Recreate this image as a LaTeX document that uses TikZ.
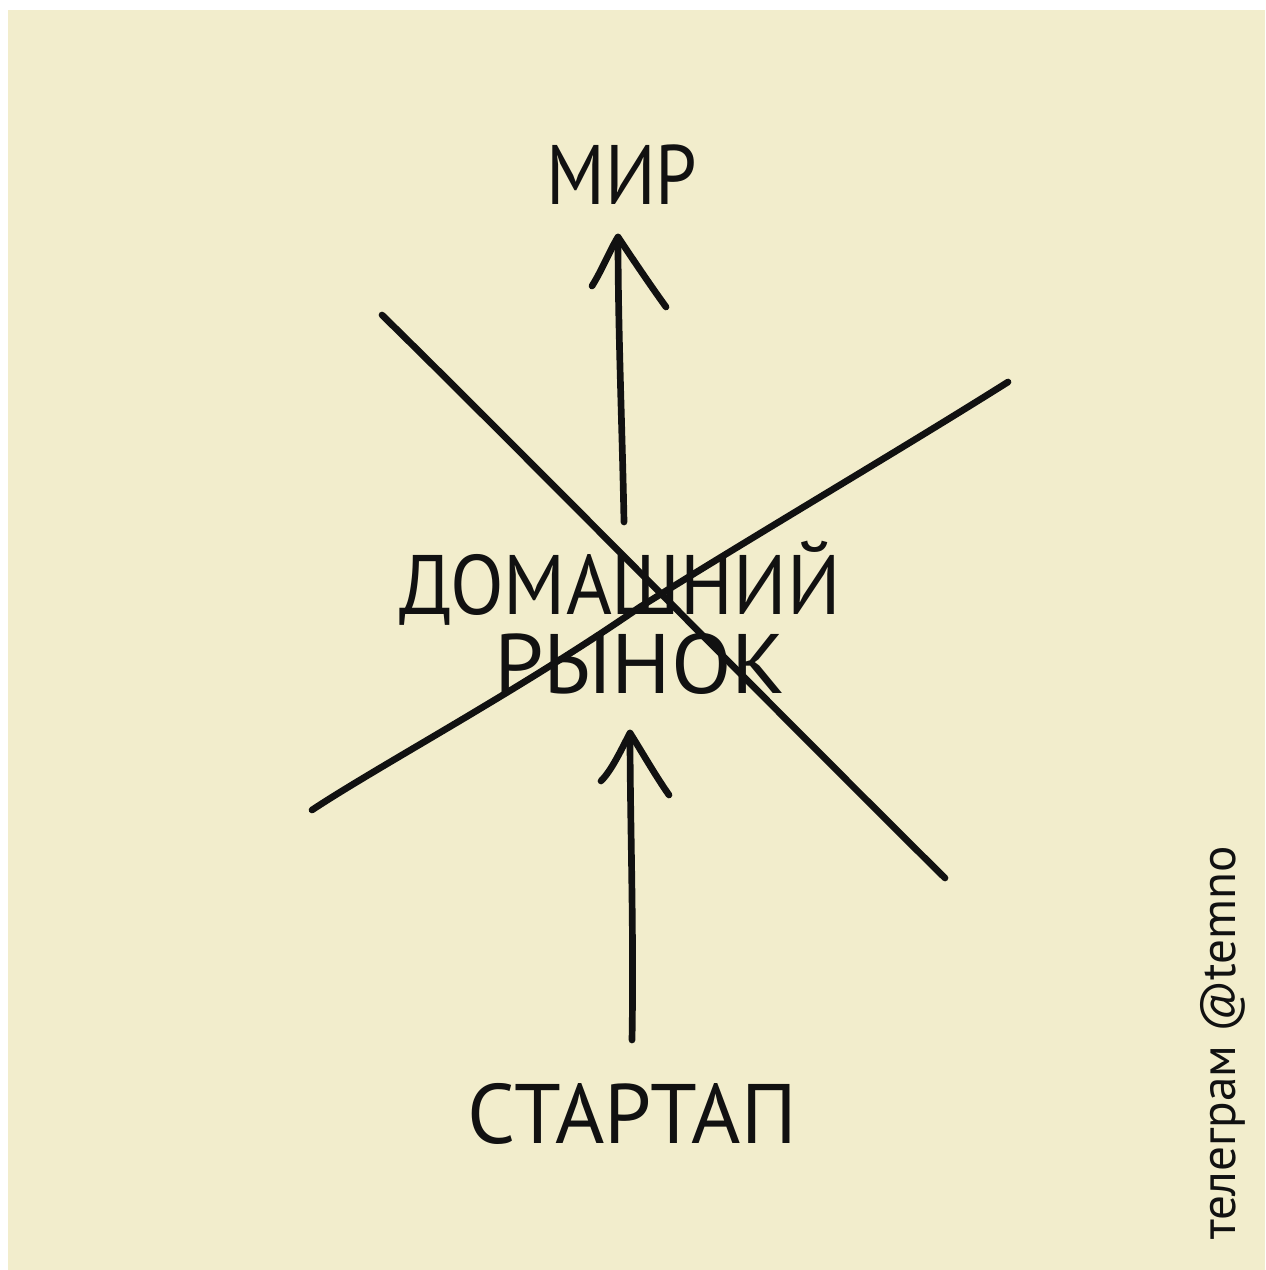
\documentclass[tikz,border=0pt]{standalone}
\usepackage{fontspec}
\setmainfont{PT Sans}
\definecolor{paper}{HTML}{F2EDCC}
\definecolor{ink}{HTML}{111111}
\tikzset{
  ink line/.style={draw=ink, line width=1.9pt, line cap=round, line join=round},
  label text/.style={text=ink, inner sep=0pt, font=\fontsize{24}{28}\selectfont},
  sig text/.style={text=ink, inner sep=0pt, font=\fontsize{14}{16}\selectfont, rotate=90, anchor=base west}
}
\begin{document}
\begin{tikzpicture}[x=0.01cm,y=-0.01cm]
\useasboundingbox (0,0) rectangle (1265,1270);
\fill[white] (0,0) rectangle (1265,1270);
\fill[paper] (8,10) rectangle (1265,1270);

% labels
\node[label text, anchor=base, xscale=0.88] (mir) at (622,205) {МИР};
\node[label text, anchor=base, xscale=0.93] (dom) at (620,614) {ДОМАШНИЙ};
\node[label text, anchor=base, xscale=1.05] (ryn) at (640,693) {РЫНОК};
\node[label text, anchor=base] (start) at (632,1143) {СТАРТАП};
\node[sig text] (sig) at (1235,1240) {телеграм @temno};

% arrow from home market to world
\coordinate (a1s) at (624,522);
\coordinate (a1t) at (618,237);
\coordinate (a1l) at (592,286);
\coordinate (a1r) at (666,307);
\draw[ink line] (a1s) .. controls (622,420) and (618,330) .. (a1t);
\draw[ink line] (a1l) .. controls (602,270) and (610,250) .. (a1t) .. controls (630,255) and (648,282) .. (a1r);

% arrow from startup to home market
\coordinate (a2s) at (632,1040);
\coordinate (a2t) at (630,733);
\coordinate (a2l) at (601,781);
\coordinate (a2r) at (669,795);
\draw[ink line] (a2s) .. controls (634,930) and (630,820) .. (a2t);
\draw[ink line] (a2l) .. controls (612,770) and (622,748) .. (a2t) .. controls (642,752) and (655,775) .. (a2r);

% crossing lines
\coordinate (c1a) at (382,315);
\coordinate (c1b) at (945,878);
\coordinate (c2a) at (312,810);
\coordinate (c2b) at (1008,382);
\draw[ink line] (c1a) .. controls (520,450) and (800,735) .. (c1b);
\draw[ink line] (c2a) .. controls (380,765) and (520,690) .. (640,607) .. controls (780,520) and (900,450) .. (c2b);
\end{tikzpicture}
\end{document}
